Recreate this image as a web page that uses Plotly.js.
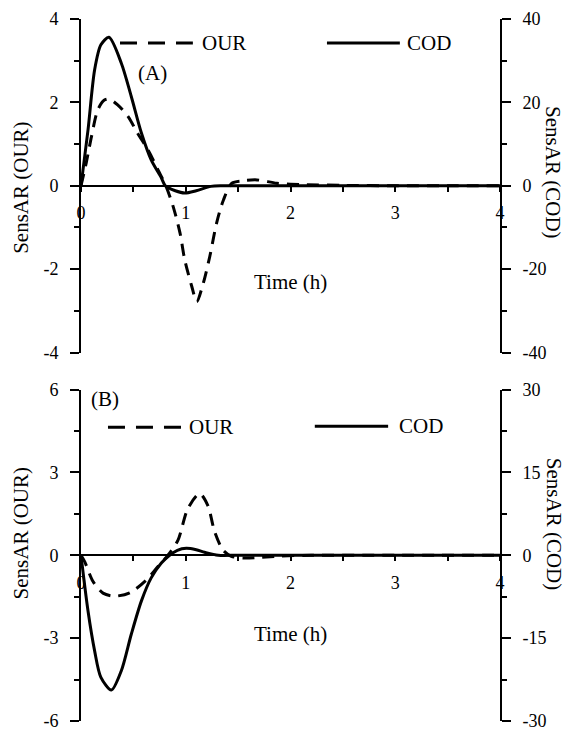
<!DOCTYPE html>
<html>
<head>
<meta charset="utf-8">
<script src="https://cdn.plot.ly/plotly-3.0.1.min.js"></script>
<style>html,body{margin:0;padding:0;background:#fff;}#chart{width:570px;height:731px;}</style>
</head>
<body>
<div id="chart"></div>
<script>
// ---- Data ----
var seriesNames = ['OUR', 'COD'];
var panelLabels = ['(A)', '(B)'];
var xTitle = 'Time (h)';
var yLeftTitle = 'SensAR (OUR)';
var yRightTitle = 'SensAR (COD)';

// Panel A
var tA_OUR = [0, 0.05, 0.1, 0.16, 0.22, 0.27, 0.35, 0.45, 0.54, 0.64, 0.735, 0.81, 0.88, 0.945, 0.99, 1.057, 1.105, 1.168, 1.23, 1.295, 1.36, 1.44, 1.55, 1.68, 1.87, 2.1, 2.5, 3, 3.5, 4];
var A_OUR  = [0, 0.55, 1.18, 1.82, 2.05, 2.08, 1.94, 1.66, 1.26, 0.86, 0.38, 0, -0.5, -1.13, -1.77, -2.41, -2.78, -2.33, -1.69, -0.89, -0.34, 0.06, 0.12, 0.14, 0.06, 0.03, 0.01, 0, 0, 0];
var tA_COD = [0, 0.067, 0.13, 0.19, 0.267, 0.385, 0.48, 0.576, 0.67, 0.767, 0.805, 0.9, 0.99, 1.1, 1.24, 1.35, 1.5, 2, 3, 4];
var A_COD  = [0, 13.4, 27.8, 33.8, 35.6, 29.4, 21.4, 12.7, 6.2, 1.9, 0, -1.2, -1.75, -1.2, -0.15, 0, 0, 0, 0, 0];

// Panel B
var tB_OUR = [0, 0.035, 0.115, 0.21, 0.32, 0.465, 0.625, 0.735, 0.83, 0.926, 1.02, 1.133, 1.21, 1.276, 1.355, 1.435, 1.56, 1.69, 1.9, 2.2, 3, 4];
var B_OUR  = [0, -0.23, -0.95, -1.37, -1.48, -1.36, -0.89, -0.41, 0, 0.55, 1.69, 2.23, 1.81, 0.85, 0.19, -0.04, -0.1, -0.08, -0.03, 0, 0, 0];
var tB_COD = [0, 0.067, 0.13, 0.19, 0.29, 0.385, 0.48, 0.576, 0.67, 0.767, 0.846, 0.92, 1.005, 1.1, 1.18, 1.31, 1.5, 2, 3, 4];
var B_COD  = [0, -10.1, -17.3, -22.1, -24.4, -20.9, -14.3, -8.3, -4.1, -1.4, 0, 0.9, 1.26, 1.0, 0.55, 0, 0, 0, 0, 0];

// Tick values / labels
var xTicks = [0, 1, 2, 3, 4];
var yA_left_ticks = [-4, -2, 0, 2, 4];
var yA_right_ticks = [-40, -20, 0, 20, 40];
var yB_left_ticks = [-6, -3, 0, 3, 6];
var yB_right_ticks = [-30, -15, 0, 15, 30];

// ---- Chart ----
var FONT = 'Liberation Serif, Times New Roman, serif';
function lbl(arr){ return arr.map(function(v){ return String(v); }); }

var dashStyle = '12px,8px';
var traces = [
  {x: tA_OUR, y: A_OUR, xaxis: 'x', yaxis: 'y', mode: 'lines', name: seriesNames[0],
   line: {color: '#000', width: 3, dash: dashStyle, shape: 'spline', smoothing: 0.8}},
  {x: tA_COD, y: A_COD, xaxis: 'x', yaxis: 'y2', mode: 'lines', name: seriesNames[1],
   line: {color: '#000', width: 3, shape: 'spline', smoothing: 0.8}},
  {x: tB_OUR, y: B_OUR, xaxis: 'x2', yaxis: 'y3', mode: 'lines', name: seriesNames[0],
   line: {color: '#000', width: 3, dash: dashStyle, shape: 'spline', smoothing: 0.8}},
  {x: tB_COD, y: B_COD, xaxis: 'x2', yaxis: 'y4', mode: 'lines', name: seriesNames[1],
   line: {color: '#000', width: 3, shape: 'spline', smoothing: 0.8}}
];

var domA = [0.5249, 1];
var domB = [0, 0.4722];
function zeroPos(dom, rng){ return dom[0] + (0 - rng[0]) / (rng[1] - rng[0]) * (dom[1] - dom[0]); }

var rA = [yA_left_ticks[0], yA_left_ticks[yA_left_ticks.length-1]];
var rA2 = [yA_right_ticks[0], yA_right_ticks[yA_right_ticks.length-1]];
var rB = [yB_left_ticks[0], yB_left_ticks[yB_left_ticks.length-1]];
var rB2 = [yB_right_ticks[0], yB_right_ticks[yB_right_ticks.length-1]];

function xAxis(pos){
  return {
    domain: [0, 1], range: [0, 4], anchor: 'free', position: pos,
    showline: true, linecolor: '#000', linewidth: 2,
    showgrid: false, zeroline: false,
    tickmode: 'array', tickvals: xTicks, ticktext: lbl(xTicks),
    ticks: 'outside', ticklen: 5, tickwidth: 2, tickcolor: '#000',
    minor: {tickmode: 'linear', tick0: 0, dtick: 0.5, ticks: 'outside', ticklen: 5, tickwidth: 2, tickcolor: '#000'},
    tickfont: {family: FONT, size: 18, color: '#000'},
    ticklabelstandoff: 6, ticklabeloverflow: 'allow',
    fixedrange: true
  };
}
function yAxis(dom, rng, ticks, side, anchor, overlay){
  var a = {
    range: rng, side: side, anchor: anchor,
    showline: true, linecolor: '#000', linewidth: 2,
    showgrid: false, zeroline: false,
    tickmode: 'array', tickvals: ticks, ticktext: lbl(ticks),
    ticks: 'outside', ticklen: 9, tickwidth: 2, tickcolor: '#000',
    minor: {tickmode: 'linear', tick0: 0, dtick: (ticks[1]-ticks[0])/2, ticks: 'outside', ticklen: 5, tickwidth: 2, tickcolor: '#000'},
    tickfont: {family: FONT, size: 18, color: '#000'},
    ticklabelstandoff: 8, ticklabeloverflow: 'allow',
    fixedrange: true
  };
  if (overlay) { a.overlaying = overlay; } else { a.domain = dom; }
  return a;
}

var ann = [];
var shapes = [];
function panelDecor(xa, ya, o){
  var xr = xa + ' domain', yr = ya + ' domain';
  var tf = {family: FONT, size: 21, color: '#000'};
  function A(x, y, text, extra){
    var a = {xref: xr, yref: yr, x: x, y: y, text: text, showarrow: false, font: tf,
             xanchor: 'center', yanchor: 'middle'};
    for (var k in (extra || {})) a[k] = extra[k];
    ann.push(a);
  }
  A(0.5, o.timeY, xTitle);
  A(o.lab[0], o.lab[1], o.label);
  A(-0.143, o.leftY, yLeftTitle, {textangle: -90});
  A(1.128, o.rightY, yRightTitle, {textangle: 90});
  // legend samples
  shapes.push({type: 'line', xref: xr, yref: yr, x0: o.l1[0], x1: o.l1[1], y0: o.l1[2], y1: o.l1[2],
    line: {color: '#000', width: 3, dash: '17px,11px'}});
  A(o.t1[0], o.t1[1], seriesNames[0], {xanchor: 'left'});
  shapes.push({type: 'line', xref: xr, yref: yr, x0: o.l2[0], x1: o.l2[1], y0: o.l2[2], y1: o.l2[2],
    line: {color: '#000', width: 3}});
  A(o.t2[0], o.t2[1], seriesNames[1], {xanchor: 'left'});
}
panelDecor('x', 'y', {timeY: 0.2126, label: panelLabels[0], lab: [0.1695, 0.838], leftY: 0.494, rightY: 0.542,
  l1: [0.0931, 0.267, 0.928], t1: [0.285, 0.928], l2: [0.587, 0.761, 0.928], t2: [0.773, 0.928]});
panelDecor('x2', 'y3', {timeY: 0.2635, label: panelLabels[1], lab: [0.0573, 0.970], leftY: 0.566, rightY: 0.596,
  l1: [0.0644, 0.241, 0.886], t1: [0.254, 0.886], l2: [0.558, 0.733, 0.889], t2: [0.755, 0.889]});

var layout = {
  width: 570, height: 731,
  margin: {l: 81, r: 70, t: 19, b: 10, pad: 0},
  paper_bgcolor: '#fff', plot_bgcolor: '#fff',
  showlegend: false,
  font: {family: FONT, color: '#000'},
  xaxis: xAxis(zeroPos(domA, rA)),
  xaxis2: xAxis(zeroPos(domB, rB)),
  yaxis: yAxis(domA, rA, yA_left_ticks, 'left', 'x'),
  yaxis2: yAxis(domA, rA2, yA_right_ticks, 'right', 'x', 'y'),
  yaxis3: yAxis(domB, rB, yB_left_ticks, 'left', 'x2'),
  yaxis4: yAxis(domB, rB2, yB_right_ticks, 'right', 'x2', 'y3'),
  annotations: ann,
  shapes: shapes
};

Plotly.newPlot('chart', traces, layout, {staticPlot: true, displayModeBar: false});
</script>
</body>
</html>
